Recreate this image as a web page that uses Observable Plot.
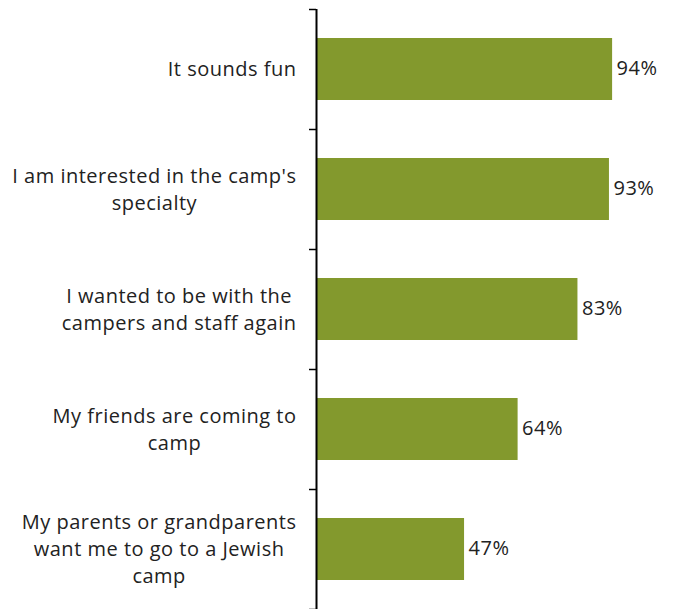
<!DOCTYPE html>
<html>
<head>
<meta charset="utf-8">
<script src="https://cdn.jsdelivr.net/npm/d3@7"></script>
<script src="https://cdn.jsdelivr.net/npm/@observablehq/plot@0.6"></script>
<style>
  body { margin: 0; background: #fff; }
  #chart svg { display: block; }
  #chart svg text { letter-spacing: 0.5px; }
</style>
</head>
<body>
<div id="chart"></div>
<script>
// Reasons for returning to camp, share of campers agreeing
const reasons = [
  "It sounds fun",
  "I am interested in the camp's\nspecialty",
  "I wanted to be with the\ncampers and staff again",
  "My friends are coming to\ncamp",
  "My parents or grandparents\nwant me to go to a Jewish\ncamp"
];
const shares = [94, 93, 83, 64, 47];
const valueLabels = ["94%", "93%", "83%", "64%", "47%"];

const data = reasons.map((reason, i) => ({reason, share: shares[i], label: valueLabels[i]}));

const width = 674, height = 609;
const marginTop = 9, marginBottom = 0, marginLeft = 316, marginRight = 43;
const fontSize = 20;
const letterSpacing = 0.5;
const fontFamily = '"Open Sans", sans-serif';
const textColor = "#222";
const barColor = "#83992d";
const labelGap = 20;

// half the band step, used to place the category boundary ticks
const halfStep = (height - marginTop - marginBottom) / reasons.length / 2;

// measure each category label block so its lines can be centred within it
const ctx = document.createElement("canvas").getContext("2d");
ctx.font = `${fontSize}px ${fontFamily}`;
const lineWidth = (l) => ctx.measureText(l).width + letterSpacing * l.length;
const blockWidth = (s) => Math.max(...s.split("\n").map(lineWidth));

const categoryLabels = reasons.map((r) =>
  Plot.text([r], {
    y: (d) => d,
    text: (d) => d,
    frameAnchor: "left",
    textAnchor: "middle",
    dx: -(labelGap + blockWidth(r) / 2),
    dy: -2,
    lineHeight: 1.35,
    fill: textColor
  })
);

const chart = Plot.plot({
  width,
  height,
  marginTop,
  marginBottom,
  marginLeft,
  marginRight,
  style: {fontFamily, fontSize: `${fontSize}px`, color: textColor, background: "#fff"},
  x: {domain: [0, 100], axis: null},
  y: {domain: reasons, paddingInner: 0.48, paddingOuter: 0.24, axis: null, label: null},
  marks: [
    Plot.barX(data, {x: "share", y: "reason", fill: barColor}),
    Plot.text(data, {
      x: "share",
      y: "reason",
      text: "label",
      textAnchor: "start",
      dx: 4,
      dy: -1,
      fill: textColor,
      style: "letter-spacing: 1.2px"
    }),
    ...categoryLabels,
    Plot.axisY({
      ticks: reasons,
      tickSize: 7,
      tickFormat: () => "",
      label: null,
      dy: -halfStep,
      stroke: "#000",
      strokeWidth: 1.5
    }),
    Plot.axisY({
      ticks: reasons.slice(-1),
      tickSize: 7,
      tickFormat: () => "",
      label: null,
      dy: halfStep,
      stroke: "#000",
      strokeWidth: 1.5
    }),
    Plot.ruleX([0], {stroke: "#000", strokeWidth: 2})
  ]
});

document.getElementById("chart").appendChild(chart);
</script>
</body>
</html>
